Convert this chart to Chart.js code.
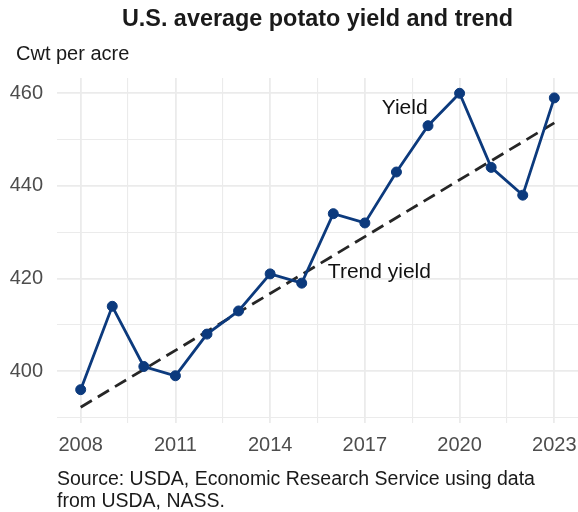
<!DOCTYPE html>
<html lang="en">
<head>
<meta charset="utf-8">
<title>U.S. average potato yield and trend</title>
<script src="https://cdn.jsdelivr.net/npm/chart.js"></script>
<style>
  html, body { margin: 0; padding: 0; background: #fff; }
  #wrap { width: 578px; height: 512px; }
</style>
</head>
<body>
<div id="wrap"><canvas id="potatoChart" width="578" height="512"></canvas></div>
<script>
  // yield, cwt per acre
  const years = [2008, 2009, 2010, 2011, 2012, 2013, 2014, 2015, 2016, 2017, 2018, 2019, 2020, 2021, 2022, 2023];
  const yieldValues = [396, 414, 401, 399, 408, 413, 421, 419, 434, 432, 443, 453, 460, 444, 438, 459];

  // trend line, start and end
  const trendYears = [2008, 2023];
  const trendValues = [392.2, 453.6];

  const xTickLabels = [2008, 2011, 2014, 2017, 2020, 2023];
  const yTickLabels = [400, 420, 440, 460];

  const FONT = '"Liberation Sans", Arial, Helvetica, sans-serif';
  const NAVY = '#0c3a7d';

  // grid lines also sit halfway between labelled ticks
  function withMinor(labels) {
    const step = labels[1] - labels[0];
    const out = [labels[0] - step / 2];
    labels.forEach(v => { out.push(v); out.push(v + step / 2); });
    return out;
  }
  const xGrid = withMinor(xTickLabels).filter(v => v >= 2007.25 && v <= 2023.75);
  const yGrid = withMinor(yTickLabels).filter(v => v >= 388.8 && v <= 463.3);

  const textPlugin = {
    id: 'chartText',
    afterDraw(chart) {
      const { ctx, chartArea, scales } = chart;
      ctx.save();
      ctx.textBaseline = 'alphabetic';

      ctx.fillStyle = '#1a1a1a';
      ctx.font = 'bold 23.4px ' + FONT;
      ctx.textAlign = 'center';
      ctx.fillText('U.S. average potato yield and trend', (chartArea.left + chartArea.right) / 2, 26);

      ctx.font = '20px ' + FONT;
      ctx.textAlign = 'left';
      ctx.fillText('Cwt per acre', 16, 60);

      ctx.font = '19.5px ' + FONT;
      ctx.fillText('Source: USDA, Economic Research Service using data', chartArea.left, 485);
      ctx.fillText('from USDA, NASS.', chartArea.left, 507);

      // series labels
      ctx.fillStyle = '#111';
      ctx.font = '21px ' + FONT;
      ctx.textAlign = 'center';
      ctx.textBaseline = 'middle';
      ctx.fillText('Yield', scales.x.getPixelForValue(2018.26), scales.y.getPixelForValue(456.8));
      ctx.fillText('Trend yield', scales.x.getPixelForValue(2017.46), scales.y.getPixelForValue(421.3));
      ctx.restore();
    }
  };

  new Chart(document.getElementById('potatoChart'), {
    type: 'line',
    data: {
      datasets: [
        {
          label: 'Yield',
          data: years.map((y, i) => ({ x: y, y: yieldValues[i] })),
          borderColor: NAVY,
          backgroundColor: NAVY,
          borderWidth: 2.8,
          pointRadius: 5,
          pointBorderWidth: 1,
          pointBackgroundColor: NAVY,
          pointBorderColor: NAVY,
          tension: 0,
          order: 1
        },
        {
          label: 'Trend yield',
          data: trendYears.map((y, i) => ({ x: y, y: trendValues[i] })),
          borderColor: '#262626',
          borderWidth: 2.8,
          borderDash: [13, 7],
          pointRadius: 0,
          tension: 0,
          order: 2
        }
      ]
    },
    options: {
      responsive: false,
      animation: false,
      layout: { autoPadding: false, padding: { top: 78, right: 0, bottom: 49, left: 0 } },
      plugins: {
        legend: { display: false },
        tooltip: { enabled: false }
      },
      scales: {
        x: {
          type: 'linear',
          min: 2007.25,
          max: 2023.75,
          afterBuildTicks: axis => { axis.ticks = xGrid.map(v => ({ value: v })); },
          afterFit: axis => {
            axis.height = 40;
            axis.paddingLeft = 0;
            axis.paddingRight = 0;
          },
          border: { display: false },
          grid: {
            color: '#ebebeb',
            lineWidth: c => xTickLabels.includes(c.tick && c.tick.value) ? 1.8 : 1.1,
            drawTicks: false
          },
          ticks: {
            autoSkip: false,
            maxRotation: 0,
            padding: 10,
            color: '#4d4d4d',
            font: { family: FONT, size: 20 },
            callback: v => xTickLabels.includes(v) ? String(v) : ''
          }
        },
        y: {
          min: 388.8,
          max: 463.3,
          afterBuildTicks: axis => { axis.ticks = yGrid.map(v => ({ value: v })); },
          afterFit: axis => { axis.width = 57; },
          border: { display: false },
          grid: {
            color: '#ebebeb',
            lineWidth: c => yTickLabels.includes(c.tick && c.tick.value) ? 1.8 : 1.1,
            drawTicks: false
          },
          ticks: {
            autoSkip: false,
            padding: 14,
            color: '#4d4d4d',
            font: { family: FONT, size: 20 },
            callback: v => yTickLabels.includes(v) ? String(v) : ''
          }
        }
      }
    },
    plugins: [textPlugin]
  });
</script>
</body>
</html>
